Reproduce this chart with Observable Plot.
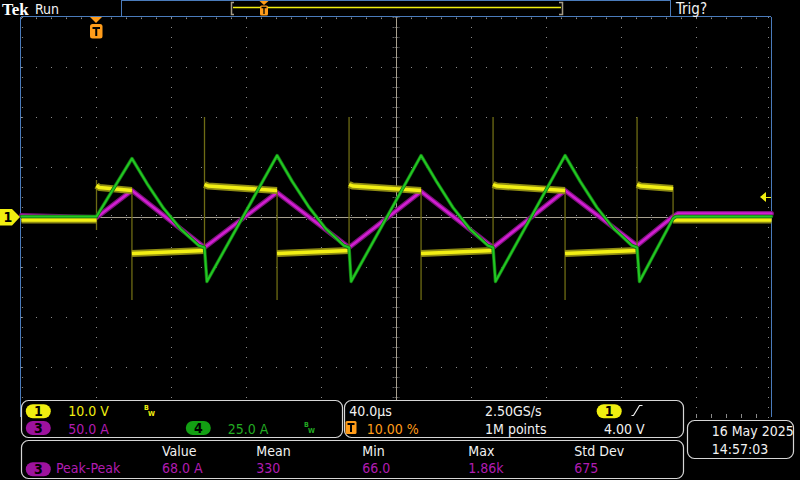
<!DOCTYPE html>
<html>
<head>
<meta charset="utf-8">
<script src="https://cdn.jsdelivr.net/npm/d3@7"></script>
<script src="https://cdn.jsdelivr.net/npm/@observablehq/plot@0.6"></script>
<style>
  html, body { margin: 0; padding: 0; background: #000; overflow: hidden; }
  #chart { width: 800px; height: 480px; }
  svg text { font-family: "DejaVu Sans Condensed", "Liberation Sans Narrow", "DejaVu Sans", sans-serif; }
</style>
</head>
<body>
<div id="chart"></div>
<script>
// ---------- Scope settings ----------
const timeDomain = [-40, 360];   // µs (40 µs/div, trigger at 10 %)
const divDomain = [-4, 4];       // vertical divisions
const ch1Scale = 10;             // V/div
const ch3Scale = 50;             // A/div
const ch4Scale = 25;             // A/div
const triggerLevel = 4.0;        // V

// ---------- Channel 1 (yellow, volts), split into segments ----------
const ch1Time    = [-40, 0,   0, 1.5, 18.9,   18.9, 57.6,   57.6, 59.5, 96.3,   96.3, 134.7,   134.7, 136.6, 173.1,   173.1, 211.5,   211.5, 213.4, 249.9,   249.9, 288.3,   288.3, 290.2, 307.5,   307.5, 360];
const ch1Volts   = [-0.5, -0.5, 6.4, 6.0, 5.4,  -7.2, -6.6,    6.6, 6.3, 5.4,     -7.2, -6.6,     6.6, 6.3, 5.4,       -7.2, -6.6,     6.6, 6.3, 5.4,       -7.2, -6.6,     6.6, 6.3, 5.8,       -0.5, -0.5];
const ch1Segment = [0, 0,     1, 1, 1,       2, 2,         3, 3, 3,          4, 4,           5, 5, 5,             6, 6,           7, 7, 7,             8, 8,           9, 9, 9,             10, 10];

// Channel 1 switching spikes (volts)
const spikeTime = [0,    18.9,  57.6, 96.3,  134.7, 173.1, 211.5, 249.9, 288.3, 307.5];
const spikeLow  = [-2.6, -16.6, -6.6, -16.6, -6.6,  -16.6, -6.6,  -16.6, -6.6,  -1.0];
const spikeHigh = [7.4,  5.4,   20.0, 5.4,   20.0,  5.4,   20.0,  5.4,   20.0,  6.0];

// ---------- Channel 3 (magenta, amps) ----------
const ch3Time = [-40, 0, 18.9, 57.6, 96.3, 134.7, 173.1, 211.5, 249.9, 288.3, 307.5, 310, 360];
const ch3Amps = [2,   0, 27,  -30,   25,  -30,    26,   -30,    27,   -28,    1,     4,   4];

// ---------- Channel 4 (green, amps) ----------
const ch4Time = [-40, 0, 18.9, 27.0, 35.9, 44.8, 54.5, 57.6, 58.9,
                 96.3, 104.4, 113.3, 122.2, 131.9, 134.7, 135.8,
                 173.1, 181.2, 190.1, 199.0, 208.7, 211.5, 212.8,
                 249.9, 258.0, 266.9, 275.8, 285.5, 288.3, 289.6,
                 307.5, 309, 360];
const ch4Amps = [0.5, 0.5, 29.5, 16.9, 4.4, -5.7, -14, -15, -32,
                 31, 18, 5.2, -5.5, -14, -15, -32,
                 31, 18.2, 5, -5.6, -14, -15, -32,
                 31, 18, 5, -5.5, -14, -15, -32,
                 -0.5, 0.5, 0.5];

// ---------- Text ----------
const channelLabels = ["1", "3", "4"];
const channelScales = ["10.0 V", "50.0 A", "25.0 A"];
const timebaseLabels = ["40.0µs", "10.00 %", "2.50GS/s", "1M points", "4.00 V"];
const measName = "Peak-Peak";
const measHeaders = ["Value", "Mean", "Min", "Max", "Std Dev"];
const measValues = ["68.0 A", "330", "66.0", "1.86k", "675"];
const dateLabels = ["16 May 2025", "14:57:03"];

// ---------- Build tables ----------
const ch1 = ch1Time.map((t, i) => ({t, v: ch1Volts[i] / ch1Scale, seg: ch1Segment[i]}));
const spikes = spikeTime.map((t, i) => ({t, lo: spikeLow[i] / ch1Scale, hi: spikeHigh[i] / ch1Scale}));
const ch3 = ch3Time.map((t, i) => ({t, v: ch3Amps[i] / ch3Scale}));
const ch4 = ch4Time.map((t, i) => ({t, v: ch4Amps[i] / ch4Scale}));

const xMajor = d3.range(timeDomain[0], timeDomain[1] + 1e-9, 40);
const xMinor = d3.range(timeDomain[0], timeDomain[1] + 1e-9, 8);
const yMajor = d3.range(divDomain[0], divDomain[1] + 1e-9, 1);
const yMinor = d3.range(divDomain[0], divDomain[1] + 1e-9, 0.2);
const xCenter = (timeDomain[0] + timeDomain[1]) / 2;
const xInner = xMajor.filter(d => d > timeDomain[0] && d < timeDomain[1] && d !== xCenter);
const yInner = yMajor.filter(d => d < divDomain[1] && d !== 0);

const dotC = "#8a8a8a", crossC = "#a7a08f", blue = "#4a7bbb";
const tx = 1.6, ty = 0.06; // tick lengths (~3 px)

const plot = Plot.plot({
  width: 800, height: 480,
  marginLeft: 21, marginRight: 29, marginTop: 17, marginBottom: 63,
  x: {domain: timeDomain, axis: null},
  y: {domain: divDomain, axis: null},
  style: {background: "#000", overflow: "visible"},
  marks: [
    // graticule
    Plot.ruleX(xInner, {stroke: dotC, strokeDasharray: "1 9"}),
    Plot.ruleY(yInner, {stroke: dotC, strokeDasharray: "1 14"}),
    Plot.ruleX([xCenter], {stroke: crossC}),
    Plot.ruleY([0], {stroke: crossC}),
    Plot.ruleX(xMinor, {x: d => d, y1: -ty, y2: ty, stroke: dotC, strokeDasharray: "1 1"}),
    Plot.ruleY(yMinor, {y: d => d, x1: xCenter - tx * 1.1, x2: xCenter + tx * 1.1, stroke: dotC, strokeDasharray: "1 1"}),
    Plot.ruleY(yMinor, {y: d => d, x1: timeDomain[0] + 0.5, x2: timeDomain[0] + tx, stroke: dotC, strokeDasharray: "1 1"}),
    Plot.ruleY(yMinor, {y: d => d, x1: timeDomain[1] - tx, x2: timeDomain[1] - 0.5, stroke: dotC, strokeDasharray: "1 1"}),
    Plot.ruleX(xMinor, {x: d => d, y1: divDomain[1] - 0.01, y2: divDomain[1] - ty * 0.7, stroke: dotC}),
    Plot.ruleX(xMinor, {x: d => d, y1: divDomain[0], y2: divDomain[0] + ty, stroke: dotC}),
    // border
    Plot.ruleX([timeDomain[0]], {stroke: blue, dx: -1}),
    Plot.ruleX([timeDomain[1]], {stroke: blue}),
    Plot.ruleY([divDomain[1]], {stroke: blue, dy: -1}),
    // channel 3 (magenta)
    Plot.line(ch3, {x: "t", y: "v", stroke: "#7c127c", strokeWidth: 5}),
    Plot.line(ch3, {x: "t", y: "v", stroke: "#d21ed2", strokeWidth: 2.5}),
    // channel 1 (yellow)
    Plot.ruleX(spikes, {x: "t", y1: "lo", y2: "hi", stroke: "#6e6b14", strokeWidth: 1.3}),
    Plot.line(ch1, {x: "t", y: "v", z: "seg", stroke: "#8f8c12", strokeWidth: 7, strokeLinecap: "butt"}),
    Plot.line(ch1, {x: "t", y: "v", z: "seg", stroke: "#f2ef14", strokeWidth: 3.5, strokeLinecap: "butt"}),
    // channel 4 (green)
    Plot.line(ch4, {x: "t", y: "v", stroke: "#126e12", strokeWidth: 3.5}),
    Plot.line(ch4, {x: "t", y: "v", stroke: "#22c822", strokeWidth: 2})
  ]
});
document.getElementById("chart").appendChild(plot);

// ---------- Scope chrome (markers, header, readouts) ----------
const xs = plot.scale("x"), ys = plot.scale("y");
const X = v => xs.apply(v), Y = v => ys.apply(v);
const ov = d3.select(plot).append("g");
const white = "#f2f2f2", yellow = "#f0ee10", magenta = "#b01cb0", green = "#22aa22", orange = "#ff9c1a";
const FS = 14;

function text(x, y, s, fill, size = FS, o = {}) {
  const t = ov.append("text").attr("x", x).attr("y", y).attr("fill", fill)
    .attr("font-size", size).attr("text-anchor", o.anchor || "start")
    .attr("font-weight", o.weight || "normal").text(s);
  if (o.family) t.style("font-family", o.family);
  return t;
}
function panel(x0, y0, x1, y1) {
  ov.append("rect").attr("x", x0 + 0.5).attr("y", y0 + 0.5).attr("width", x1 - x0).attr("height", y1 - y0)
    .attr("rx", 7).attr("fill", "#000").attr("stroke", "#d6d6d6").attr("stroke-width", 1.2);
}
function pill(cx, cy, label, fill) {
  ov.append("rect").attr("x", cx - 12.5).attr("y", cy - 7).attr("width", 25).attr("height", 14).attr("rx", 7).attr("fill", fill);
  text(cx, cy + 5, label, "#000", 14, {anchor: "middle", weight: "bold"});
}
function bw(x, y, fill) {
  text(x, y, "B", fill, 7, {weight: "bold"});
  text(x + 4, y + 6, "W", fill, 7, {weight: "bold"});
}

// header
text(2, 15, "Tek", "#ffffff", 17, {weight: "bold", family: '"Liberation Serif", "DejaVu Serif", serif'});
text(35, 13.5, "Run", white, 14);
text(676, 14, "Trig?", white, 15);
ov.append("rect").attr("x", 121.5).attr("y", 0.5).attr("width", 549).attr("height", 16).attr("fill", "none").attr("stroke", blue);
ov.append("line").attr("x1", 233).attr("x2", 561).attr("y1", 7.5).attr("y2", 7.5).attr("stroke", yellow).attr("stroke-width", 1.3);
ov.append("path").attr("d", "M234,2.5 H231.5 V14.5 H234 M559,2.5 H562.5 V14.5 H559").attr("fill", "none").attr("stroke", "#a39a86").attr("stroke-width", 1.5);
ov.append("path").attr("d", "M259.5,1 H268.5 L264,5 Z").attr("fill", orange);
ov.append("rect").attr("x", 260).attr("y", 5.5).attr("width", 8).attr("height", 10).attr("rx", 1.5).attr("fill", orange);
ov.append("path").attr("d", "M261.5,7.5 H266.5 M264,7.5 V14").attr("stroke", "#000").attr("stroke-width", 1.3);

// trigger position marker
const tx0 = X(0);
ov.append("path").attr("d", `M${tx0 - 6},17 H${tx0 + 6} L${tx0},23 Z`).attr("fill", orange);
ov.append("rect").attr("x", tx0 - 6).attr("y", 24).attr("width", 12.5).attr("height", 14.5).attr("rx", 2.5).attr("fill", orange);
ov.append("path").attr("d", `M${tx0 - 3.5},28 H${tx0 + 4} M${tx0 + 0.25},28 V36`).attr("stroke", "#000").attr("stroke-width", 2);

// channel 1 ground marker
const g0 = Y(0);
ov.append("path").attr("d", `M0,${g0 - 8} H12 L20,${g0} L12,${g0 + 8.5} H0 Z`).attr("fill", yellow);
text(8, g0 + 5, "1", "#000", 14, {anchor: "middle", weight: "bold"});

// trigger level marker
const tl = Y(triggerLevel / ch1Scale);
ov.append("path").attr("d", `M760,${tl} L766,${tl - 5} V${tl + 5} Z`).attr("fill", yellow);
ov.append("line").attr("x1", 765).attr("x2", 771).attr("y1", tl + 0.5).attr("y2", tl + 0.5).attr("stroke", yellow);

// panels
panel(21, 400, 342, 437);
panel(344, 400, 683, 437);
panel(21, 440, 683, 478);
panel(687, 420, 793, 458);

// channel panel
pill(38.3, 411.3, channelLabels[0], yellow);
text(68.3, 416, channelScales[0], yellow);
bw(144, 410, yellow);
pill(38.3, 428, channelLabels[1], "#9d129d");
text(68.3, 433.5, channelScales[1], magenta);
pill(198.3, 428, channelLabels[2], "#13a013");
text(227.7, 433.5, channelScales[2], green);
bw(304, 427, green);

// timebase panel
text(349.3, 416, timebaseLabels[0], white);
ov.append("rect").attr("x", 345.5).attr("y", 421).attr("width", 11).attr("height", 13).attr("rx", 1.5).attr("fill", orange);
ov.append("path").attr("d", "M347.5,424 H354.5 M351,424 V432").attr("stroke", "#000").attr("stroke-width", 2);
text(366.7, 433.5, timebaseLabels[1], orange);
text(485, 416, timebaseLabels[2], white);
text(485, 433.5, timebaseLabels[3], white);
pill(609.2, 411.3, channelLabels[0], yellow);
ov.append("path").attr("d", "M631.5,415.5 H633.5 L639.5,405.5 H642.5").attr("fill", "none").attr("stroke", white).attr("stroke-width", 1.2);
text(604, 433.5, timebaseLabels[4], white);

// measurement panel
pill(38.3, 469.3, channelLabels[1], "#9d129d");
text(56, 473, measName, magenta);
const measX = [162, 256.3, 362.3, 468.3, 574.3];
measHeaders.forEach((h, i) => text(measX[i], 456, h, white));
measValues.forEach((v, i) => text(measX[i], 473, v, magenta));

// date panel
text(711.7, 435.5, dateLabels[0], white);
text(711.7, 453.5, dateLabels[1], white);
</script>
</body>
</html>
